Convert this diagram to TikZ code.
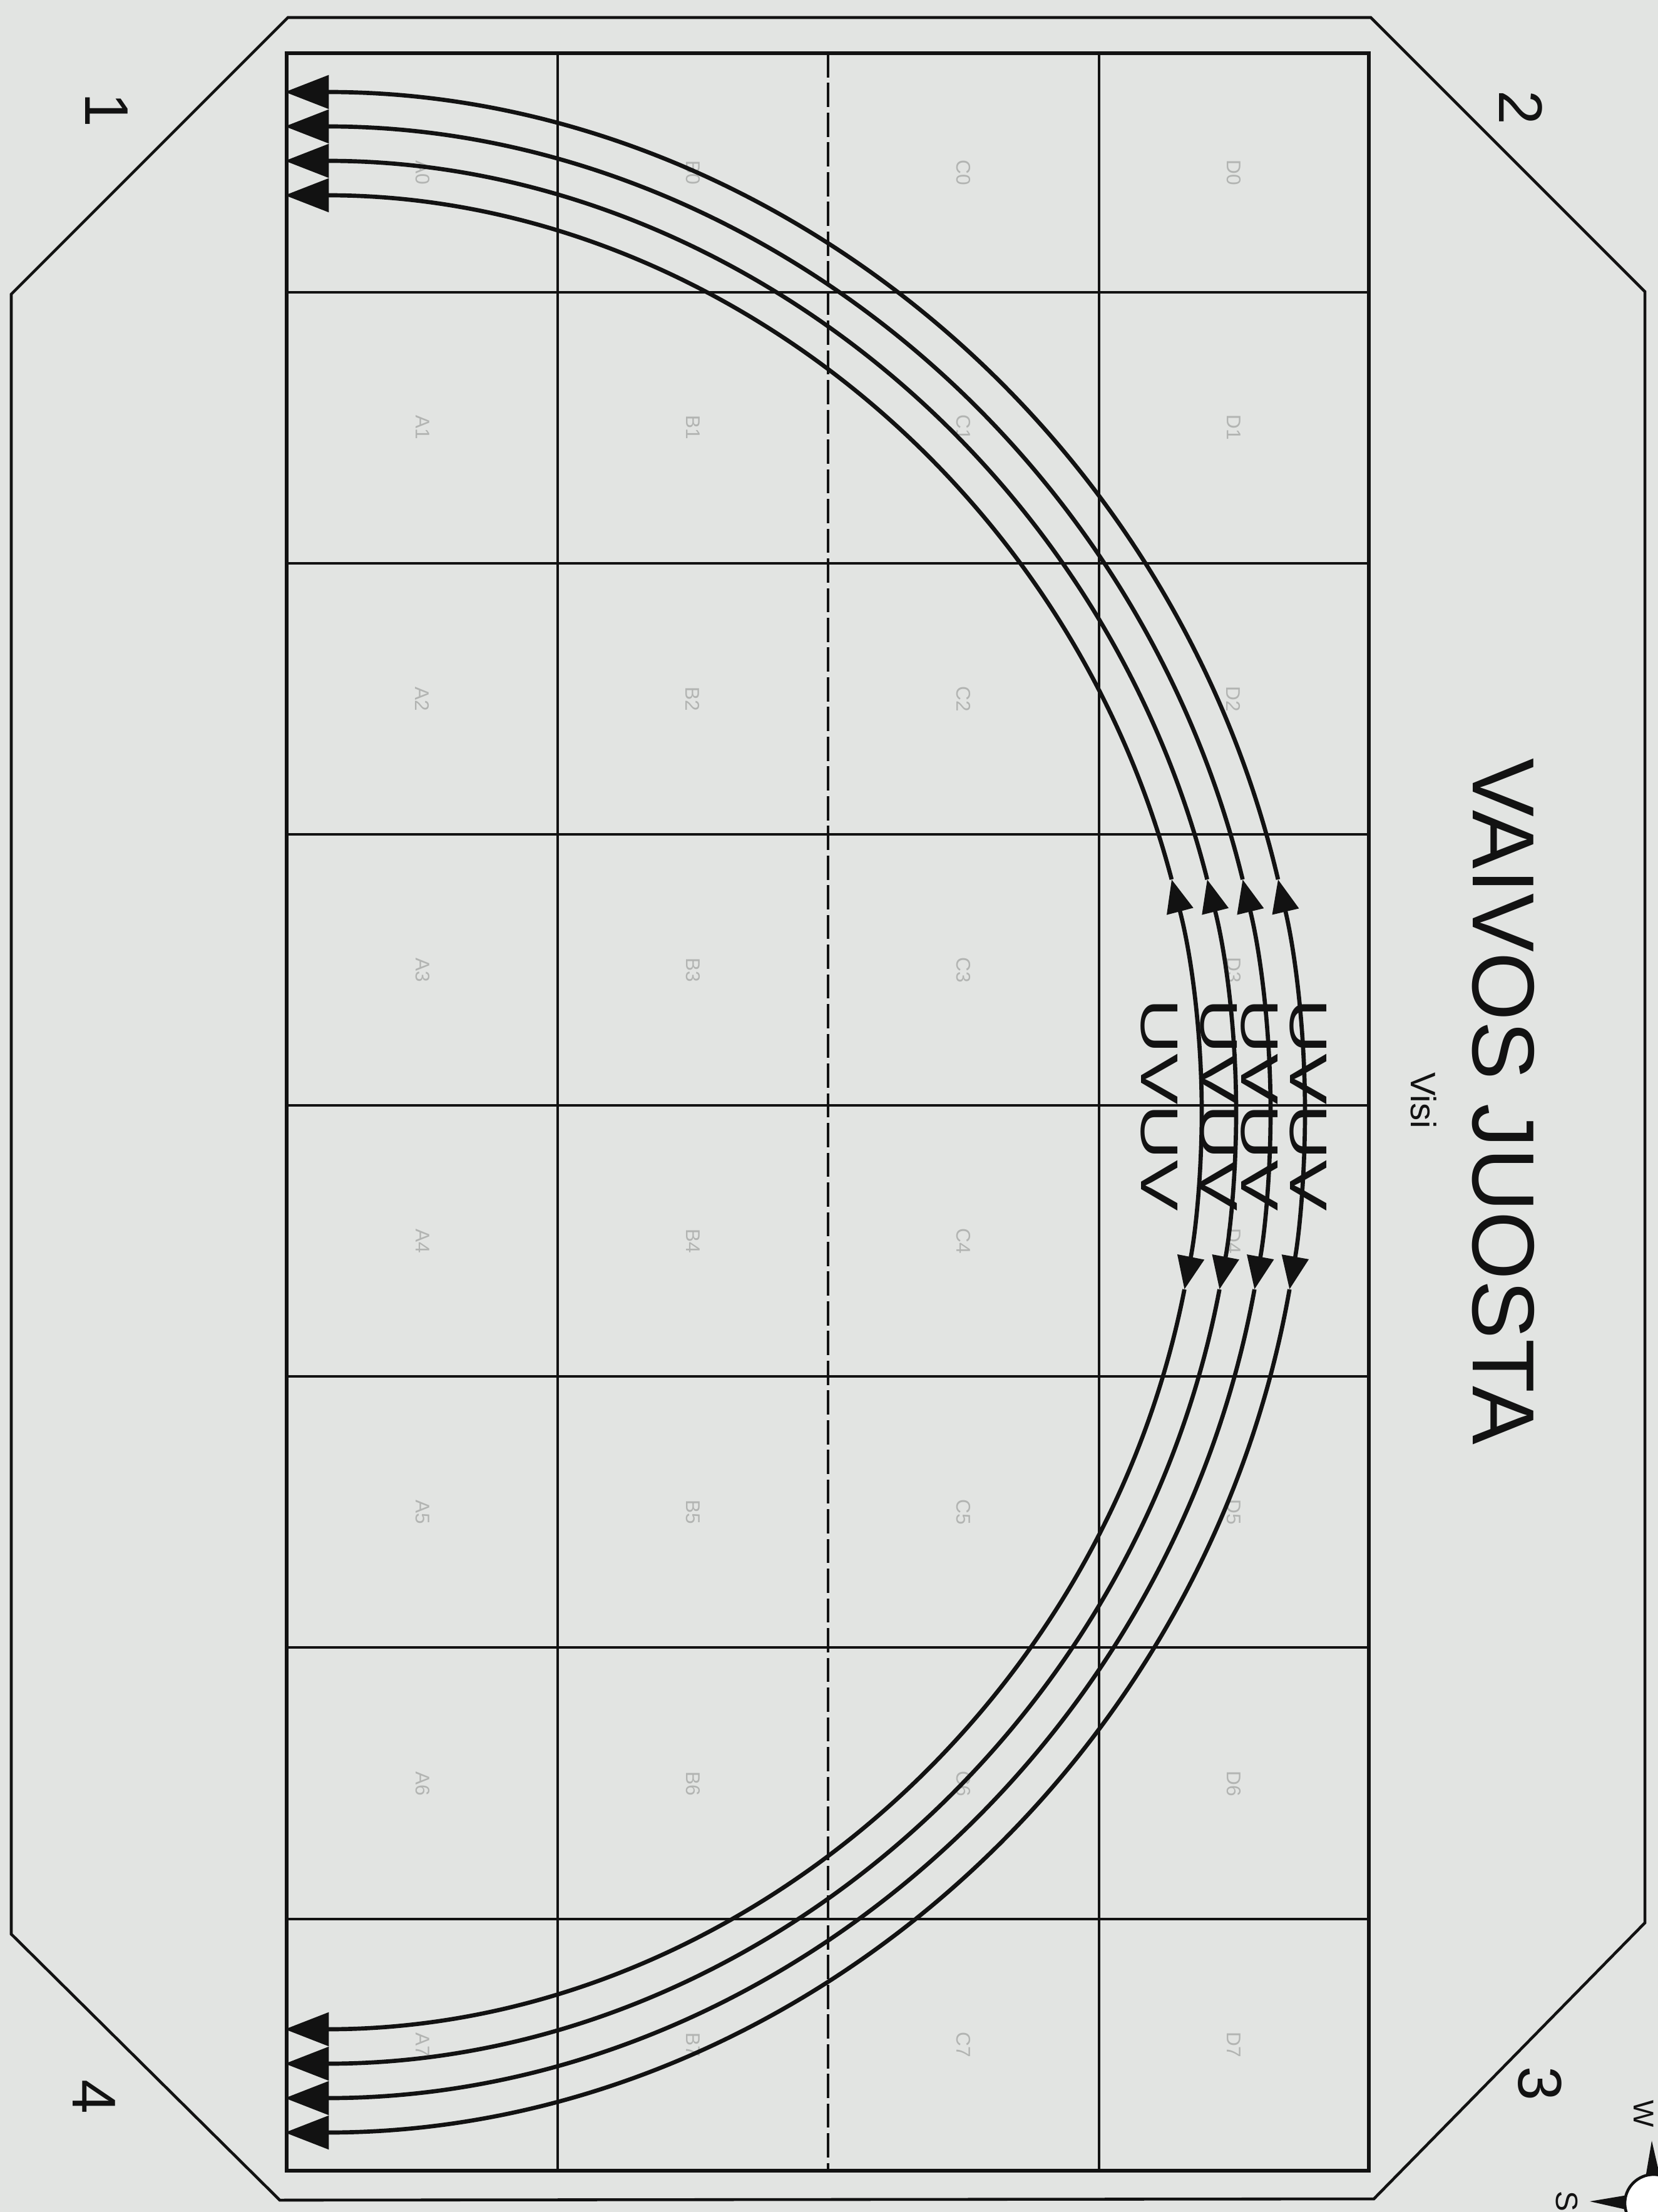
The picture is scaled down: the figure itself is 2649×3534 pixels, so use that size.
\documentclass[tikz,border=0pt]{standalone}
\usepackage{fontspec}
\setmainfont{Liberation Sans}
\usetikzlibrary{arrows.meta}
\definecolor{paper}{RGB}{226,228,226}
\definecolor{ink}{RGB}{18,18,18}
\definecolor{faint}{RGB}{178,180,178}
\begin{document}
\begin{tikzpicture}[x=0.01cm,y=-0.01cm,line join=miter,
  frame/.style={line width=1.3pt,draw=ink},
  gridline/.style={line width=0.9pt,draw=ink},
  thread/.style={line width=1.9pt,draw=ink},
  endtip/.style={-{Triangle[length=20pt,width=15pt]}},
  midtip/.style={-{Triangle[length=15pt,width=12pt]}},
  lbl/.style={rotate=-90,inner sep=0pt,text=ink},
  cell/.style={rotate=-90,inner sep=0pt,text=faint,font=\fontsize{9}{10}\selectfont}]
  \useasboundingbox (0,0) rectangle (2649,3534);
  \fill[paper] (0,0) rectangle (2649,3534);
  % outer octagon
  \draw[frame] (460,28) -- (2190,28) -- (2628,466) -- (2628,3072)
    -- (2195,3513) -- (447,3515) -- (18,3090) -- (18,470) -- cycle;
  % chart grid
  \draw[frame,line width=1.5pt] (458,85) rectangle (2187,3468);
  \foreach \x in {891,1756}
    \draw[gridline] (\x,85) -- (\x,3468);
  \draw[gridline,dash pattern=on 11pt off 2.5pt] (1323,85) -- (1323,3468);
  \foreach \y in {467,900,1333,1766,2199,2632,3066}
    \draw[gridline] (458,\y) -- (2187,\y);
  % faint hole labels
  \foreach \c [count=\j from 0] in {A,B,C,D}
    \foreach \y [count=\k from 0] in {276,683,1117,1550,1983,2416,2850,3267}
      \node[cell] (cell\c\k) at (675+432*\j,\y) {\c\k};
  % threads
  \foreach \r [count=\i] in {1465,1520,1575,1630} {
    \pgfmathsetmacro\tu{-asin(372/\r)}
    \pgfmathsetmacro\td{asin(283/\r)}
    \coordinate (apex\i) at (455+\r,1777);
    \draw[thread,midtip] (apex\i) arc[start angle=0,end angle=\tu,radius=\r] coordinate (up\i);
    \draw[thread,endtip] (up\i) arc[start angle=\tu,end angle=-90,radius=\r] coordinate (top\i);
    \draw[thread,midtip] (apex\i) arc[start angle=0,end angle=\td,radius=\r] coordinate (dn\i);
    \draw[thread,endtip] (dn\i) arc[start angle=\td,end angle=90,radius=\r] coordinate (bot\i);
  }
  \foreach \x [count=\i] in {1852,1947,2012,2090}
    \node[lbl,font=\fontsize{24}{28}\selectfont,xscale=1.45] (weave\i) at (\x,1765) {UVUV};
  % titles
  \node[lbl,font=\fontsize{40}{48}\selectfont] (title) at (2402,1760) {VAIVOS JUOSTA};
  \node[lbl,font=\fontsize{16}{19}\selectfont] (sub) at (2275,1758) {Visi};
  \foreach \n/\x/\y in {1/170/176,2/2430/172,3/2460/3329,4/150/3350}
    \node[lbl,font=\fontsize{28}{30}\selectfont] (corner\n) at (\x,\y) {\n};
  % compass
  \coordinate (rose) at (2642,3520);
  \fill[ink] (2622,3520) -- (2639,3420) -- (2662,3520) -- cycle;
  \fill[ink] (2642,3500) -- (2540,3517) -- (2642,3540) -- cycle;
  \draw[frame,fill=white] (rose) circle[radius=46];
  \node[lbl,font=\fontsize{13}{15}\selectfont] (west) at (2626,3377) {W};
  \node[lbl,font=\fontsize{14}{16}\selectfont] (south) at (2503,3517) {S};
\end{tikzpicture}
\end{document}
